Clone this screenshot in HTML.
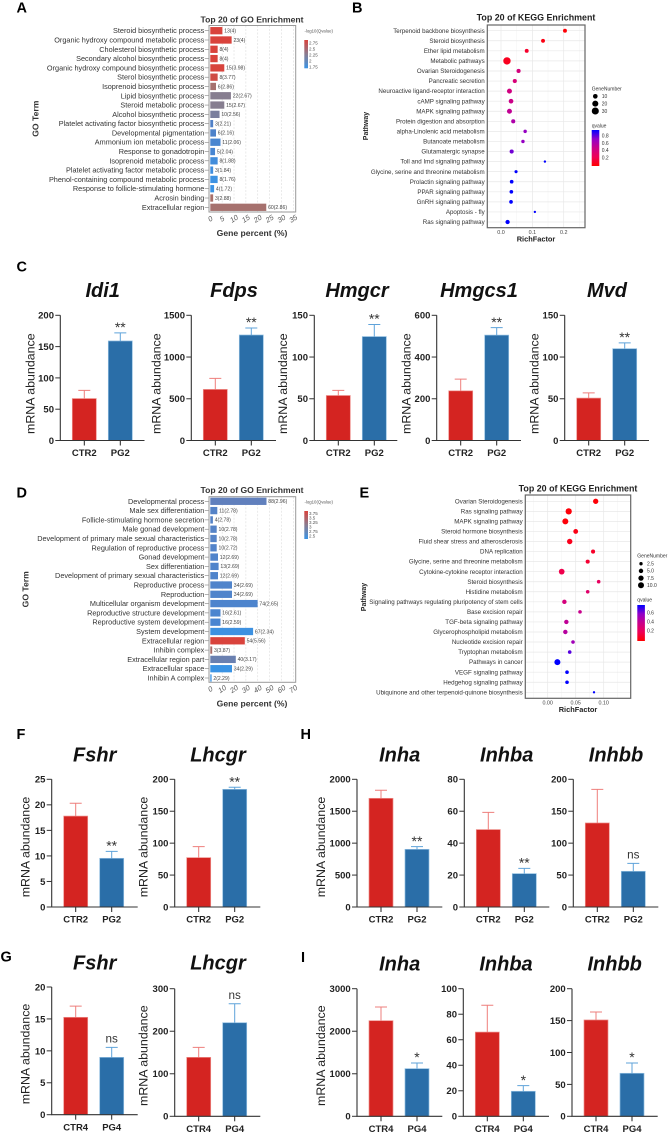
<!DOCTYPE html>
<html lang="en">
<head>
<meta charset="utf-8">
<title>Enrichment and mRNA abundance figure</title>
<style>
html,body{margin:0;padding:0;background:#fff;}
svg{display:block;font-family:"Liberation Sans",Arial,sans-serif;}
.panel-letter{font-size:14.5px;font-weight:bold;fill:#000;}
.soft{filter:blur(0.3px);}
</style>
</head>
<body>
<svg id="figure" xmlns="http://www.w3.org/2000/svg" width="670" height="1134" viewBox="0 0 670 1134">
  <rect x="0" y="0" width="670" height="1134" fill="#fff"/>
  <text class="panel-letter" x="16.5" y="12.7">A</text>
  <text class="panel-letter" x="352" y="12.5">B</text>
  <text class="panel-letter" x="16.5" y="271.7">C</text>
  <text class="panel-letter" x="16.5" y="497.3">D</text>
  <text class="panel-letter" x="359.5" y="497.7">E</text>
  <text class="panel-letter" x="16.5" y="739">F</text>
  <text class="panel-letter" x="300.5" y="739">H</text>
  <text class="panel-letter" x="0.5" y="961.7">G</text>
  <text class="panel-letter" x="301" y="962">I</text>
</svg>
<script>
/* ---------- GO enrichment data (panels A and D) ---------- */
const goTermsA = ['Steroid biosynthetic process','Organic hydroxy compound metabolic process','Cholesterol biosynthetic process','Secondary alcohol biosynthetic process','Organic hydroxy compound biosynthetic process','Sterol biosynthetic process','Isoprenoid biosynthetic process','Lipid biosynthetic process','Steroid metabolic process','Alcohol biosynthetic process','Platelet activating factor biosynthetic process','Developmental pigmentation','Ammonium ion metabolic process','Response to gonadotropin','Isoprenoid metabolic process','Platelet activating factor metabolic process','Phenol-containing compound metabolic process','Response to follicle-stimulating hormone','Acrosin binding','Extracellular region'];
const goPercentA = [5.1,9.0,3.1,3.1,5.9,3.1,2.4,8.7,5.9,3.9,1.2,2.4,4.3,2.0,3.1,1.2,3.1,1.6,1.2,23.6];
const goCountsA = [13,23,8,8,15,8,6,22,15,10,3,6,11,5,8,3,8,4,3,60];
const goQA = [4,4,4,4,3.98,3.77,2.86,2.67,2.67,2.56,2.21,2.16,2.06,2.04,1.88,1.84,1.76,1.72,2.88,2.86];
const goTicksA = [0,5,10,15,20,25,30,35];
const goLegendA = ['2.75','2.5','2.25','2','1.75'];

const goTermsD = ['Developmental process','Male sex differentiation','Follicle-stimulating hormone secretion','Male gonad development','Development of primary male sexual characteristics','Regulation of reproductive process','Gonad development','Sex differentiation','Development of primary sexual characteristics','Reproductive process','Reproduction','Multicellular organism development','Reproductive structure development','Reproductive system development','System development','Extracellular region','Inhibin complex','Extracellular region part','Extracellular space','Inhibin A complex'];
const goPercentD = [47.4,5.9,2.2,5.4,5.4,5.4,6.5,7.0,6.5,18.3,18.3,39.9,8.6,8.6,36.1,29.1,1.6,21.5,18.3,1.1];
const goCountsD = [88,11,4,10,10,10,12,13,12,34,34,74,16,16,67,54,3,40,34,2];
const goQD = [2.96,2.78,2.78,2.78,2.78,2.72,2.69,2.69,2.69,2.69,2.69,2.65,2.61,2.59,2.34,5.56,3.87,3.17,2.29,2.29];
const goTicksD = [0,10,20,30,40,50,60,70];
const goLegendD = ['3.75','3.5','3.25','3','2.75','2.5'];

/* ---------- KEGG enrichment data (panels B and E) ---------- */
const keggPathwaysB = ['Terpenoid backbone biosynthesis','Steroid biosynthesis','Ether lipid metabolism','Metabolic pathways','Ovarian Steroidogenesis','Pancreatic secretion','Neuroactive ligand-receptor interaction','cAMP signaling pathway','MAPK signaling pathway','Protein digestion and absorption','alpha-Linolenic acid metabolism','Butanoate metabolism','Glutamatergic synapse','Toll and Imd signaling pathway','Glycine, serine and threonine metabolism','Prolactin signaling pathway','PPAR signaling pathway','GnRH signaling pathway','Apoptosis - fly','Ras signaling pathway'];
const keggRichB = [0.204,0.134,0.082,0.019,0.056,0.044,0.027,0.032,0.027,0.039,0.077,0.070,0.034,0.140,0.048,0.034,0.033,0.032,0.108,0.021];
const keggGenesB = [6,6,6,33,7,7,12,10,12,7,4,4,7,1,3,5,5,5,1,8];
const keggQB = [0.02,0.05,0.12,0.08,0.4,0.38,0.42,0.45,0.5,0.58,0.68,0.68,0.75,0.93,0.93,0.93,0.93,0.93,0.93,0.93];
const keggTicksB = [0,0.1,0.2];
const keggSizeLegendB = [10,20,30];
const keggColorLegendB = [0.8,0.6,0.4,0.2];

const keggPathwaysE = ['Ovarian Steroidogenesis','Ras signaling pathway','MAPK signaling pathway','Steroid hormone biosynthesis','Fluid shear stress and atherosclerosis','DNA replication','Glycine, serine and threonine metabolism','Cytokine-cytokine receptor interaction','Steroid biosynthesis','Histidine metabolism','Signaling pathways regulating pluripotency of stem cells','Base excision repair','TGF-beta signaling pathway','Glycerophospholipid metabolism','Nucleotide excision repair','Tryptophan metabolism','Pathways in cancer','VEGF signaling pathway','Hedgehog signaling pathway','Ubiquinone and other terpenoid-quinone biosynthesis'];
const keggRichE = [0.0857,0.0375,0.0315,0.05,0.0393,0.081,0.0714,0.025,0.091,0.0714,0.0298,0.0577,0.0333,0.0315,0.0452,0.0393,0.0173,0.0345,0.0345,0.0827];
const keggGenesE = [7.5,11,10,6,8,4,4,9,3,3,5,3,5,5,3,3,10,3,3,1];
const keggQE = [0.015,0.02,0.02,0.045,0.06,0.09,0.11,0.165,0.22,0.26,0.32,0.38,0.41,0.44,0.51,0.64,0.75,0.75,0.75,0.75];
const keggTicksE = [0,0.05,0.1];
const keggSizeLegendE = [2.5,5,7.5,10];
const keggColorLegendE = [0.6,0.4,0.2];

/* ---------- mRNA bar chart data (panels C, F, H, G, I) ---------- */
const geneNames = ['Idi1','Fdps','Hmgcr','Hmgcs1','Mvd','Fshr','Lhcgr','Inha','Inhba','Inhbb','Fshr','Lhcgr','Inha','Inhba','Inhbb'];
const controlGroups = ['CTR2','CTR2','CTR2','CTR2','CTR2','CTR2','CTR2','CTR2','CTR2','CTR2','CTR4','CTR4','CTR4','CTR4','CTR4'];
const treatedGroups = ['PG2','PG2','PG2','PG2','PG2','PG2','PG2','PG2','PG2','PG2','PG4','PG4','PG4','PG4','PG4'];
const controlMeans = [67,612,53.9,238,50.8,17.8,77.3,1702,48.5,131.6,15.25,138.6,2248,66,151];
const controlErrors = [13,132,6.1,56,6.2,2.5,17.2,126,10.8,52.7,1.75,23.4,321,21,12.4];
const treatedMeans = [159,1264,124.5,505,110,9.53,184.3,903,20.9,55.9,8.98,220,1120,19.6,67.4];
const treatedErrors = [13,84,14.5,36,7,1.37,3.2,42,3.3,12.5,1.57,44.7,133,4.4,16.1];
const axisMaxima = [200,1500,150,600,150,25,200,2000,80,200,20,300,3000,100,200];
const axisSteps = [50,500,50,200,50,5,50,500,20,50,5,100,1000,20,50];
const significance = ['**','**','**','**','**','**','**','**','**','ns','ns','ns','*','*','*'];

/* ---------- layout (not data) ---------- */
const barFrames = [
  {x0:60.3,x1:144.5,y0:440.5,yT:315.3,cx:102.7,base:297,lab:29.7,labY:383.7,name:'c'},
  {x0:191.3,x1:276,y0:440.5,yT:315.3,cx:234,base:297,lab:156,labY:383.7,name:'c'},
  {x0:314.3,x1:397.3,y0:440.5,yT:315.3,cx:357,base:297,lab:282.3,labY:383.7,name:'c'},
  {x0:436.7,x1:521,y0:440.5,yT:315.3,cx:479,base:297,lab:406,labY:383.7,name:'c'},
  {x0:564.7,x1:649,y0:440.5,yT:315.3,cx:607,base:297,lab:533.7,labY:383.7,name:'c'},
  {x0:51.7,x1:137.7,y0:907,yT:779.3,cx:94.7,base:761.7,lab:25,labY:847,name:'f'},
  {x0:174.7,x1:260.3,y0:907,yT:779.3,cx:218,base:761.7,lab:143,labY:847,name:'f'},
  {x0:357,x1:442.3,y0:907,yT:779.3,cx:399.7,base:761.7,lab:320.3,labY:847,name:'h'},
  {x0:464.3,x1:549.3,y0:907,yT:779.3,cx:506.7,base:761.7,lab:null,labY:0,name:'h'},
  {x0:573.3,x1:658.3,y0:907,yT:779.3,cx:616,base:761.7,lab:null,labY:0,name:'h'},
  {x0:51.7,x1:137.7,y0:1114.7,yT:987,cx:94.7,base:969.3,lab:25,labY:1054,name:'g'},
  {x0:174.7,x1:260.3,y0:1116.3,yT:988.7,cx:218,base:969.3,lab:143,labY:1055.7,name:'g'},
  {x0:357,x1:442.3,y0:1116.3,yT:988.7,cx:399.7,base:970.7,lab:320.3,labY:1055.7,name:'i'},
  {x0:463.3,x1:549,y0:1116.3,yT:988.7,cx:506,base:970.7,lab:null,labY:0,name:'i'},
  {x0:572,x1:657.7,y0:1116.3,yT:988.7,cx:614.7,base:970.7,lab:null,labY:0,name:'i'}
];

const svg = document.getElementById('figure');
const NS = 'http://www.w3.org/2000/svg';
let host = svg;

function node(tag, attrs, text) {
  const n = document.createElementNS(NS, tag);
  for (const k in attrs) n.setAttribute(k, attrs[k]);
  if (text !== undefined) n.textContent = text;
  host.appendChild(n);
  return n;
}
function lerp(a, b, t) { return a + (b - a) * t; }
function rgb(c) { return 'rgb(' + c.map(v => Math.round(v)).join(',') + ')'; }

/* ---------- bar charts ---------- */
function drawBarChart(i) {
  const f = barFrames[i];
  const gene = geneNames[i];
  const max = axisMaxima[i];
  const step = axisSteps[i];
  const id = f.name + '-' + gene.toLowerCase();
  const y = v => f.y0 - (v / max) * (f.y0 - f.yT);
  let el;

  el = node('text', {x: f.cx, y: f.base, 'text-anchor': 'middle', 'font-size': 20, 'font-weight': 'bold', 'font-style': 'italic', fill: '#111'}, gene);
  
  

  if (f.lab !== null) {
    el = node('text', {x: 0, y: 0, transform: 'translate(' + (f.lab + 4.6) + ',' + f.labY + ') rotate(-90)', 'text-anchor': 'middle', 'font-size': 12.4, fill: '#222'}, 'mRNA abundance');
    
    
  }

  const centers = [f.x0 + 24, f.x0 + 60];
  const means = [controlMeans[i], treatedMeans[i]];
  const errors = [controlErrors[i], treatedErrors[i]];
  const groups = [controlGroups[i], treatedGroups[i]];
  const fills = ['#d42421', '#2a6ea8'];
  const edges = ['#ee8f8b', '#8fbde0'];
  const whisk = ['#ee7f7c', '#5fa3da'];

  for (let b = 0; b < 2; b++) {
    el = node('rect', {x: centers[b] - 12, y: y(means[b]), width: 24, height: f.y0 - y(means[b]), fill: fills[b], stroke: edges[b], 'stroke-width': 0.7});
    
    

    el = node('path', {d: 'M' + centers[b] + ' ' + y(means[b]) + 'V' + y(means[b] + errors[b]) + 'M' + (centers[b] - 6) + ' ' + y(means[b] + errors[b]) + 'H' + (centers[b] + 6), fill: 'none', stroke: whisk[b], 'stroke-width': 1});
    
    

    el = node('path', {d: 'M' + centers[b] + ' ' + f.y0 + 'v5', stroke: '#222', 'stroke-width': 1, fill: 'none'});
    
    

    el = node('text', {x: centers[b], y: f.y0 + 15.7, 'text-anchor': 'middle', 'font-size': 9.5, 'font-weight': 'bold', fill: '#222'}, groups[b]);
    
    
  }

  el = node('path', {d: 'M' + f.x0 + ' ' + f.yT + 'V' + f.y0 + 'H' + f.x1, fill: 'none', stroke: '#333', 'stroke-width': 1.1});
  
  

  for (let v = 0; v <= max + 1e-6; v += step) {
    el = node('path', {d: 'M' + (f.x0 - 5) + ' ' + y(v) + 'H' + f.x0, stroke: '#333', 'stroke-width': 1, fill: 'none'});
    
    

    el = node('text', {x: f.x0 - 6.3, y: y(v) + 3.4, 'text-anchor': 'end', 'font-size': 9.5, 'font-weight': 'bold', fill: '#222'}, String(v));
    
    
  }

  const top = y(treatedMeans[i] + treatedErrors[i]);
  const sig = significance[i];
  const isNs = sig === 'ns';
  el = node('text', {x: centers[1], y: isNs ? top - 4.7 : top - 0.8, 'text-anchor': 'middle', 'font-size': isNs ? 11.7 : 14, fill: '#333'}, sig);
  
  
}
for (let i = 0; i < geneNames.length; i++) drawBarChart(i);

/* ---------- GO enrichment charts ---------- */
function goColor(q, stops) {
  if (q <= stops[0][0]) return rgb(stops[0][1]);
  for (let i = 1; i < stops.length; i++) {
    if (q <= stops[i][0]) {
      const t = (q - stops[i - 1][0]) / (stops[i][0] - stops[i - 1][0]);
      return rgb([0, 1, 2].map(k => lerp(stops[i - 1][1][k], stops[i][1][k], t)));
    }
  }
  return rgb(stops[stops.length - 1][1]);
}
const stopsA = [[1.7,[58,148,230]],[2.2,[79,128,200]],[2.67,[135,126,144]],[2.88,[169,112,106]],[4,[217,67,60]]];
const stopsD = [[2.29,[58,147,228]],[2.6,[74,133,208]],[2.96,[97,128,189]],[3.17,[106,128,176]],[3.87,[169,110,106]],[5.56,[217,67,60]]];

function drawGo(p, terms, pct, counts, qs, ticks, legend, stops) {
  let el;
  host = svg;
  const group = node('g', {class: 'soft'});
  
  
  host = group;

  const x = v => p.x0 + (v / ticks[ticks.length - 1]) * (p.xEnd - p.x0);
  const rowY = k => p.first + k * (p.last - p.first) / (terms.length - 1);

  el = node('text', {x: 252, y: p.titleY, 'text-anchor': 'middle', 'font-size': 8.6, 'font-weight': 'bold', fill: '#333'}, 'Top 20 of GO Enrichment');
  
  

  ticks.forEach(t => {
    if (t === 0) return;
    el = node('line', {x1: x(t), x2: x(t), y1: p.top, y2: p.bottom, stroke: '#dcdcdc', 'stroke-width': 0.6, 'stroke-dasharray': '2 1.5'});
    
    
  });

  terms.forEach((term, k) => {
    el = node('text', {x: 204.3, y: rowY(k) + 2.5, 'text-anchor': 'end', 'font-size': 7.3, fill: '#333'}, term);
    
    

    el = node('line', {x1: 204.8, x2: 209, y1: rowY(k), y2: rowY(k), stroke: '#666', 'stroke-width': 0.5});
    
    

    el = node('rect', {x: x(0), y: rowY(k) - 3.65, width: x(pct[k]) - x(0), height: 7.3, fill: goColor(qs[k], stops)});
    
    

    el = node('text', {x: x(pct[k]) + 1.8, y: rowY(k) + 1.8, 'font-size': 5.1, fill: '#444'}, counts[k] + '(' + qs[k] + ')');
    
    
  });

  el = node('rect', {x: p.left, y: p.top, width: p.right - p.left, height: p.bottom - p.top, fill: 'none', stroke: '#9a9a9a', 'stroke-width': 1});
  
  

  ticks.forEach(t => {
    el = node('text', {x: 0, y: 0, transform: 'translate(' + (x(t) + 1) + ',' + (p.bottom + 9) + ') rotate(-32) skewX(-10)', 'text-anchor': 'middle', 'font-size': 7.3, fill: '#555'}, String(t));
    
    
  });

  el = node('text', {x: 252, y: p.xTitleY, 'text-anchor': 'middle', 'font-size': 8.6, 'font-weight': 'bold', fill: '#333'}, 'Gene percent (%)');
  
  

  el = node('text', {x: 0, y: 0, transform: 'translate(' + (p.yTitleX + 3) + ',' + p.yTitleY + ') rotate(-90)', 'text-anchor': 'middle', 'font-size': 8.6, 'font-weight': 'bold', fill: '#333'}, 'GO Term');
  
  

  el = node('text', {x: 304.5, y: p.legendTitleY, 'font-size': 4.3, fill: '#555'}, '-log10(Qvalue)');
  
  

  const gradId = 'gradGo' + p.id;
  const defs = document.createElementNS(NS, 'defs');
  defs.innerHTML = '<linearGradient id="' + gradId + '" x1="0" y1="0" x2="0" y2="1"><stop offset="0" stop-color="#d9433c"/><stop offset="0.5" stop-color="#8a7c90"/><stop offset="1" stop-color="#3a94e6"/></linearGradient>';
  svg.appendChild(defs);
  el = node('rect', {x: 304.3, y: p.barTop, width: 3.7, height: p.barBottom - p.barTop, fill: 'url(#' + gradId + ')'});
  
  

  legend.forEach((lab, k) => {
    const ly = p.legFirst + k * (p.legLast - p.legFirst) / (legend.length - 1);
    el = node('text', {x: 309, y: ly + 1.6, 'font-size': 4.5, fill: '#555'}, lab);
    
    
  });
  host = svg;
}
drawGo({id: 'a', x0: 210.3, xEnd: 293.3, left: 209, right: 295.7, top: 25.5, bottom: 212, first: 30.7, last: 207.3, titleY: 22.5, xTitleY: 236, yTitleX: 35.7, yTitleY: 118.7, legendTitleY: 32.5, barTop: 40, barBottom: 68.3, legFirst: 42.7, legLast: 67},
  goTermsA, goPercentA, goCountsA, goQA, goTicksA, goLegendA, stopsA);
drawGo({id: 'd', x0: 210.3, xEnd: 293.3, left: 209, right: 295.7, top: 496.7, bottom: 682.3, first: 501.3, last: 678, titleY: 493, xTitleY: 706.7, yTitleX: 25.7, yTitleY: 589.3, legendTitleY: 503.5, barTop: 511, barBottom: 539, legFirst: 513.5, legLast: 536},
  goTermsD, goPercentD, goCountsD, goQD, goTicksD, goLegendD, stopsD);

/* ---------- KEGG enrichment charts ---------- */
const qRamp = [[255,0,0],[238,0,86],[201,0,138],[146,0,200],[0,0,255]];
function qColor(q, dom) {
  const t = Math.min(1, Math.max(0, q / dom)) * (qRamp.length - 1);
  const k = Math.min(qRamp.length - 2, Math.floor(t));
  return rgb([0, 1, 2].map(c => lerp(qRamp[k][c], qRamp[k + 1][c], t - k)));
}
function drawKegg(p, names, rich, genes, qs, ticks, sizeLeg, colorLeg) {
  let el;
  host = svg;
  const group = node('g', {class: 'soft'});
  
  
  host = group;

  const x = v => p.xZero + v * p.xScale;
  const rowY = k => p.first + k * (p.last - p.first) / (names.length - 1);
  const radius = g => p.rA + p.rB * Math.sqrt(g);

  el = node('text', {x: p.cx, y: p.titleY, 'text-anchor': 'middle', 'font-size': 8.9, 'font-weight': 'bold', fill: '#222'}, 'Top 20 of KEGG Enrichment');
  
  

  p.minor.forEach(v => {
    el = node('line', {x1: x(v), x2: x(v), y1: p.top, y2: p.bottom, stroke: '#f3f3f3', 'stroke-width': 0.5});
    
    
  });
  ticks.forEach(t => {
    el = node('line', {x1: x(t), x2: x(t), y1: p.top, y2: p.bottom, stroke: '#e8e8e8', 'stroke-width': 0.7});
    
    
  });

  names.forEach((name, k) => {
    el = node('line', {x1: p.left, x2: p.right, y1: rowY(k), y2: rowY(k), stroke: '#e8e8e8', 'stroke-width': 0.7});
    
    

    el = node('text', {x: p.left - 2.6, y: rowY(k) + 2.1, 'text-anchor': 'end', 'font-size': p.labelSize, fill: '#333'}, name);
    
    
  });

  names.forEach((name, k) => {
    el = node('circle', {cx: x(rich[k]), cy: rowY(k), r: radius(genes[k]), fill: qColor(qs[k], p.qMax)});
    
    
  });

  el = node('rect', {x: p.left, y: p.top, width: p.right - p.left, height: p.bottom - p.top, fill: 'none', stroke: '#666', 'stroke-width': 1.2});
  
  

  ticks.forEach(t => {
    el = node('text', {x: x(t), y: p.bottom + 6.2, 'text-anchor': 'middle', 'font-size': 5.4, fill: '#444'}, t.toFixed(p.digits));
    
    
  });

  el = node('text', {x: p.cx, y: p.xTitleY, 'text-anchor': 'middle', 'font-size': 7.4, 'font-weight': 'bold', fill: '#222'}, 'RichFactor');
  
  

  el = node('text', {x: 0, y: 0, transform: 'translate(' + (p.yTitleX + 2.5) + ',' + p.yTitleY + ') rotate(-90)', 'text-anchor': 'middle', 'font-size': 7, 'font-weight': 'bold', fill: '#222'}, 'Pathway');
  
  

  el = node('text', {x: p.legX, y: p.sizeTitleY, 'font-size': 5, fill: '#333'}, 'GeneNumber');
  
  

  sizeLeg.forEach((g, k) => {
    const ly = p.sizeFirst + k * p.sizeGap;
    el = node('circle', {cx: p.sizeCx, cy: ly, r: radius(g), fill: '#000'});
    
    

    el = node('text', {x: p.legLabelX, y: ly + 1.8, 'font-size': 5, fill: '#333'}, p.id === 'e' ? g.toFixed(1) : String(g));
    
    
  });

  el = node('text', {x: p.legX, y: p.colorTitleY, 'font-size': 5, fill: '#333'}, 'qvalue');
  
  

  const gradId = 'gradKegg' + p.id;
  const defs = document.createElementNS(NS, 'defs');
  defs.innerHTML = '<linearGradient id="' + gradId + '" x1="0" y1="0" x2="0" y2="1"><stop offset="0" stop-color="#0000ff"/><stop offset="0.25" stop-color="#9200c8"/><stop offset="0.5" stop-color="#c9008a"/><stop offset="0.75" stop-color="#ee0056"/><stop offset="1" stop-color="#ff0000"/></linearGradient>';
  svg.appendChild(defs);
  el = node('rect', {x: p.legX, y: p.cbTop, width: 7.6, height: p.cbBottom - p.cbTop, fill: 'url(#' + gradId + ')'});
  
  

  colorLeg.forEach(v => {
    const ly = p.cbBottom - (v / p.qMax) * (p.cbBottom - p.cbTop) * 0.94 - 1.2;
    el = node('text', {x: p.legLabelX, y: ly + 1.8, 'font-size': 5, fill: '#333'}, v.toFixed(1));
    
    
  });
  host = svg;
}
drawKegg({id: 'b', xZero: 501, xScale: 313.6, left: 487.3, right: 585, top: 25, bottom: 227.7, first: 30.7, last: 222, labelSize: 6.2, cx: 536, titleY: 20.7, xTitleY: 241.5, yTitleX: 365.7, yTitleY: 126, rA: 0.65, rB: 0.53, qMax: 0.93, digits: 1, minor: [0.05, 0.15, 0.25], legX: 591.7, legLabelX: 601.7, sizeCx: 595.3, sizeTitleY: 90.5, sizeFirst: 96.3, sizeGap: 7.35, colorTitleY: 127.5, cbTop: 130, cbBottom: 166},
  keggPathwaysB, keggRichB, keggGenesB, keggQB, keggTicksB, keggSizeLegendB, keggColorLegendB);
drawKegg({id: 'e', xZero: 547.7, xScale: 560, left: 525.3, right: 630.7, top: 495, bottom: 698.3, first: 501.3, last: 692.3, labelSize: 6.2, cx: 578, titleY: 491.3, xTitleY: 712, yTitleX: 363.3, yTitleY: 597, rA: 0.34, rB: 0.84, qMax: 0.75, digits: 2, minor: [0.025, 0.075, 0.125, -0.025], legX: 637.3, legLabelX: 647, sizeCx: 641, sizeTitleY: 557.3, sizeFirst: 563.7, sizeGap: 7.2, colorTitleY: 601.5, cbTop: 605, cbBottom: 641},
  keggPathwaysE, keggRichE, keggGenesE, keggQE, keggTicksE, keggSizeLegendE, keggColorLegendE);
</script>
</body>
</html>
